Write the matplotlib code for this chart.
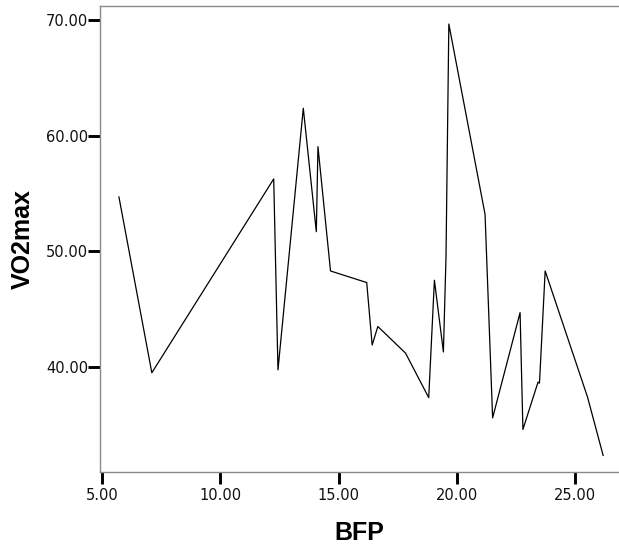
import matplotlib
matplotlib.use("Agg")
import matplotlib.pyplot as plt

bfp = [5.72, 7.11, 12.26, 12.44, 13.51, 14.06, 14.13, 14.66, 16.19, 16.42, 16.66,
       17.83, 18.81, 19.05, 19.43, 19.54, 19.66, 21.19, 21.51, 22.67, 22.79,
       23.43, 23.49, 23.73, 25.52, 26.18]
vo2max = [54.7, 39.5, 56.26, 39.75, 62.37, 51.7, 59.05, 48.3, 47.3, 41.9, 43.5,
          41.2, 37.35, 47.5, 41.3, 49.5, 69.65, 53.2, 35.6, 44.7, 34.6,
          38.7, 38.6, 48.3, 37.4, 32.35]

xticks = [5, 10, 15, 20, 25]
yticks = [40, 50, 60, 70]

fig = plt.figure(figsize=(6.19, 5.45), dpi=100)
ax = fig.add_axes([100/619, 1-472/545, 1-100/619, (472-6)/545])
ax.plot(bfp, vo2max, color="black", lw=0.9)
ax.set_xlim(4.92, 26.85)
ax.set_ylim(30.92, 71.21)
ax.set_xticks(xticks)
ax.set_yticks(yticks)
ax.set_xticklabels([f"{v:.2f}" for v in xticks], fontsize=10.5, family="DejaVu Sans", color="#111111")
ax.set_yticklabels([f"{v:.2f}" for v in yticks], fontsize=10.5, family="DejaVu Sans", color="#111111")
ax.tick_params(axis="both", direction="out", length=8.5, width=2.1, color="black")
ax.tick_params(axis="y", pad=0)
ax.tick_params(axis="x", pad=3)
for s in ax.spines.values():
    s.set_color("#8a8a8a")
    s.set_linewidth(1.0)
ax.spines["right"].set_visible(False)
ax.set_xlabel("BFP", fontsize=18, fontweight="bold", family="Liberation Sans", labelpad=13)
ax.set_ylabel("VO2max", fontsize=18, fontweight="bold", family="Liberation Sans", labelpad=8)
fig.savefig("out.png", dpi=100)
